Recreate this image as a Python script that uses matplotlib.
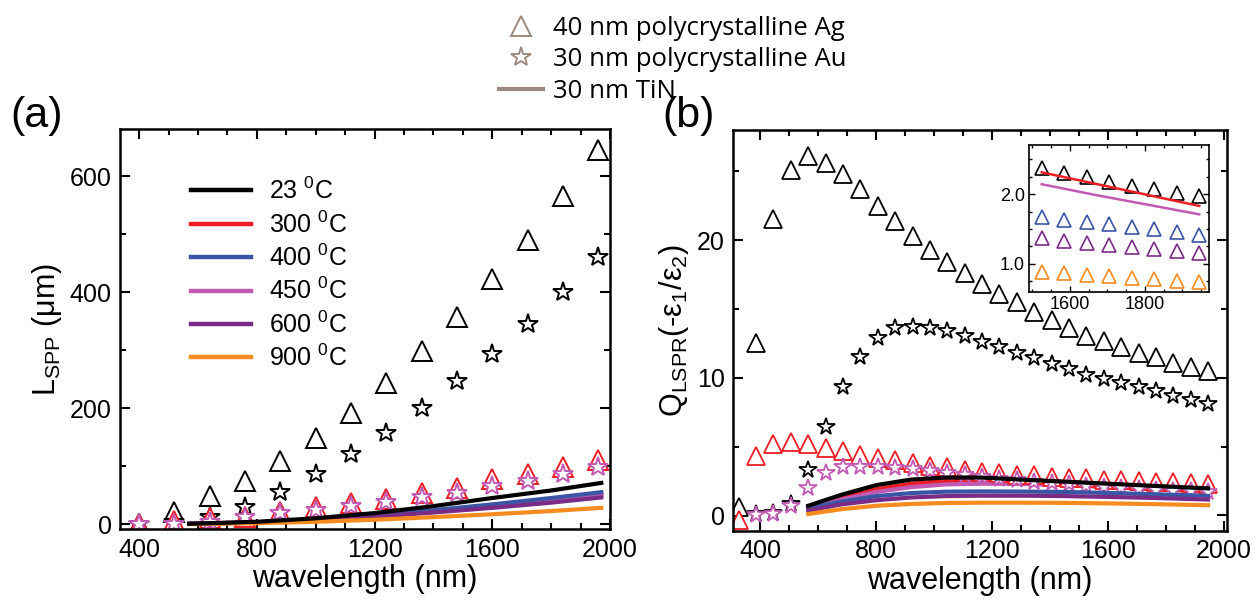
import matplotlib
matplotlib.use("Agg")
import matplotlib.pyplot as plt
from matplotlib.lines import Line2D
from matplotlib.ticker import MultipleLocator, FormatStrFormatter

plt.rcParams['font.family'] = ['Liberation Sans', 'DejaVu Sans']
plt.rcParams['mathtext.default'] = 'regular'

# ---------- colours per anneal temperature ----------
temps = ['23', '300', '400', '450', '600', '900']
colors = ['#000000', '#ec1d25', '#3b55a5', '#c25ab3', '#7a2b86', '#f68b1f']

# ---------- (a) propagation length L_SPP (um) ----------
wl_a = [400, 520, 640, 760, 880, 1000, 1120, 1240, 1360, 1480, 1600, 1720, 1840, 1960]
ag_23_a = [0, 20, 48, 75, 109, 149, 191, 243, 299, 357, 422, 490, 566, 646]
au_23_a = [0, 3, 12, 29, 55, 87, 121, 157, 200, 246, 294, 345, 400, 460]
ag_300_a = [0, 5, 10, 12, 20, 29, 36, 44, 53, 63, 77, 87, 99, 110]
au_450_a = [0, 0, 4, 12, 19, 24, 31, 38, 46, 53, 65, 75, 87, 99]

wl_tin_a = [570, 800, 1000, 1200, 1400, 1600, 1800, 1970]
tin_a = {
    '23':  [0.5, 4, 10, 19, 31, 45, 58, 71],
    '300': [0.5, 3, 7.5, 14.5, 23, 33, 43, 53],
    '400': [0.5, 3, 8, 15, 24, 34, 45, 55],
    '450': [0.5, 3, 7.5, 14, 22, 31, 41, 50],
    '600': [0.5, 2.5, 6.5, 12.5, 20, 28, 37, 46],
    '900': [0, 1.5, 4, 7.5, 12, 17, 22.5, 28],
}

# ---------- (b) quality factor Q_LSPR ----------
wl_ag_b = [325, 385, 445, 505, 565, 625, 685, 745, 805, 865, 925, 985, 1045, 1105,
           1165, 1225, 1285, 1345, 1405, 1465, 1525, 1585, 1645, 1705, 1765, 1825, 1885, 1945]
ag_23_b = [0.6, 12.5, 21.5, 25.1, 26.1, 25.6, 24.8, 23.7, 22.5, 21.4, 20.3, 19.3, 18.4, 17.6,
           16.8, 16.1, 15.5, 14.8, 14.2, 13.6, 13.0, 12.7, 12.2, 11.8, 11.5, 11.1, 10.8, 10.5]
ag_300_b = [-0.3, 4.3, 5.2, 5.3, 5.2, 4.9, 4.7, 4.4, 4.2, 4.0, 3.8, 3.6, 3.5, 3.3,
            3.15, 3.05, 2.95, 2.9, 2.8, 2.75, 2.7, 2.6, 2.55, 2.5, 2.45, 2.4, 2.35, 2.3]

wl_au_b = [385, 445, 505, 565, 625, 685, 745, 805, 865, 925, 985, 1045, 1105,
           1165, 1225, 1285, 1345, 1405, 1465, 1525, 1585, 1645, 1705, 1765, 1825, 1885, 1945]
au_23_b = [0.1, 0.2, 0.8, 3.3, 6.4, 9.3, 11.5, 12.9, 13.6, 13.7, 13.6, 13.4, 13.0,
           12.6, 12.2, 11.8, 11.4, 11.0, 10.6, 10.2, 9.9, 9.6, 9.3, 9.0, 8.7, 8.4, 8.1]
au_450_b = [0.0, 0.1, 0.65, 2.0, 3.1, 3.55, 3.55, 3.5, 3.45, 3.35, 3.25, 3.1, 2.95,
            2.8, 2.65, 2.55, 2.45, 2.35, 2.25, 2.15, 2.05, 1.98, 1.9, 1.85, 1.8, 1.75, 1.7]

wl_tin_b = [565, 680, 800, 920, 1040, 1160, 1300, 1450, 1600, 1750, 1945]
tin_b = {
    '23':  [0.7, 1.5, 2.2, 2.6, 2.75, 2.75, 2.6, 2.45, 2.3, 2.15, 1.96],
    '300': [0.6, 1.3, 1.9, 2.3, 2.5, 2.55, 2.5, 2.4, 2.22, 2.05, 1.83],
    '400': [0.5, 1.0, 1.4, 1.62, 1.72, 1.74, 1.73, 1.70, 1.63, 1.54, 1.42],
    '450': [0.55, 1.15, 1.7, 2.05, 2.25, 2.3, 2.28, 2.2, 2.05, 1.9, 1.71],
    '600': [0.35, 0.8, 1.1, 1.3, 1.4, 1.43, 1.43, 1.4, 1.34, 1.27, 1.15],
    '900': [0.1, 0.45, 0.7, 0.83, 0.9, 0.92, 0.92, 0.91, 0.87, 0.82, 0.74],
}

# inset: TiN long-wavelength detail
wl_inset = [1525, 1585, 1645, 1705, 1765, 1825, 1885, 1945]
inset_tri = {
    '23':  [2.37, 2.30, 2.24, 2.17, 2.12, 2.07, 2.02, 1.97],
    '400': [1.67, 1.63, 1.60, 1.57, 1.53, 1.50, 1.46, 1.42],
    '600': [1.37, 1.33, 1.30, 1.27, 1.24, 1.21, 1.19, 1.15],
    '900': [0.89, 0.87, 0.84, 0.83, 0.80, 0.78, 0.76, 0.74],
}
wl_inset_line = [1525, 1665, 1805, 1945]
inset_line = {
    '300': [2.31, 2.15, 1.99, 1.83],
    '450': [2.14, 1.99, 1.85, 1.71],
}

col = dict(zip(temps, colors))


def style_axes(ax, size=18):
    ax.tick_params(which='both', direction='in', top=True, right=True, width=1.5)
    ax.tick_params(which='major', length=7, labelsize=size, pad=6)
    ax.tick_params(which='minor', length=4)
    for s in ax.spines.values():
        s.set_linewidth(1.8)


fig = plt.figure(figsize=(12.6, 6.07), dpi=100)
ax1 = fig.add_axes([0.0952, 0.128, 0.389, 0.659])
ax2 = fig.add_axes([0.5817, 0.126, 0.392, 0.660])

# ----- panel (a) -----
ax1.plot(wl_a, ag_23_a, ls='none', marker='^', ms=14, mfc='w', mec='k', mew=1.4)
ax1.plot(wl_a, au_23_a, ls='none', marker='*', ms=15, mfc='w', mec='k', mew=1.4)
ax1.plot(wl_a, ag_300_a, ls='none', marker='^', ms=14, mfc='w', mec=col['300'], mew=1.4)
ax1.plot(wl_a, au_450_a, ls='none', marker='*', ms=15, mfc='w', mec=col['450'], mew=1.4)
for t in ['300', '450', '400', '600', '900', '23']:
    ax1.plot(wl_tin_a, tin_a[t], color=col[t], lw=3)

handles = [Line2D([], [], color=col[t], lw=3.2) for t in temps]
labels = [t + r' $^{0}$C' for t in temps]
ax1.legend(handles, labels, loc='upper left', bbox_to_anchor=(0.1, 0.935), frameon=False,
           fontsize=18, handlelength=2.4, handletextpad=0.7, labelspacing=0.28)

ax1.set_xlim(335, 2000)
ax1.set_ylim(-9, 681)
ax1.xaxis.set_major_locator(MultipleLocator(400))
ax1.xaxis.set_minor_locator(MultipleLocator(100))
ax1.yaxis.set_major_locator(MultipleLocator(200))
ax1.yaxis.set_minor_locator(MultipleLocator(100))
style_axes(ax1)
ax1.set_xlabel('wavelength (nm)', fontsize=22, labelpad=2)
ax1.set_ylabel(r'L$_{SPP}$ ($\mu$m)', fontsize=22, labelpad=4)
fig.text(0.008, 0.79, '(a)', fontsize=31)

# ----- panel (b) -----
ax2.plot(wl_ag_b, ag_23_b, ls='none', marker='^', ms=13.5, mfc='w', mec='k', mew=1.3, zorder=2)
ax2.plot(wl_au_b, au_23_b, ls='none', marker='*', ms=13, mfc='w', mec='k', mew=1.3, zorder=2)
ax2.plot(wl_ag_b, ag_300_b, ls='none', marker='^', ms=13.5, mfc='w', mec=col['300'], mew=1.3, zorder=2)
ax2.plot(wl_au_b, au_450_b, ls='none', marker='*', ms=13, mfc='w', mec=col['450'], mew=1.3, zorder=2)
for t in ['300', '450']:
    ax2.plot(wl_tin_b, tin_b[t], color=col[t], lw=3, zorder=1)
for t in ['400', '600', '900', '23']:
    ax2.plot(wl_tin_b, tin_b[t], color=col[t], lw=3, zorder=3)

ax2.set_xlim(305, 2010)
ax2.set_ylim(-1.1, 28.0)
ax2.xaxis.set_major_locator(MultipleLocator(400))
ax2.xaxis.set_minor_locator(MultipleLocator(100))
ax2.yaxis.set_major_locator(MultipleLocator(10))
ax2.yaxis.set_minor_locator(MultipleLocator(5))
style_axes(ax2)
ax2.set_xlabel('wavelength (nm)', fontsize=22, labelpad=2)
ax2.set_ylabel(r'Q$_{LSPR}$(-ε$_{1}$/ε$_{2}$)', fontsize=22, labelpad=4)
fig.text(0.526, 0.79, '(b)', fontsize=31)

# inset
axi = fig.add_axes([0.8167, 0.519, 0.1428, 0.242])
for t in ['23', '400', '600', '900']:
    axi.plot(wl_inset, inset_tri[t], ls='none', marker='^', ms=9.5, mfc='none', mec=col[t], mew=1.2)
for t in ['300', '450']:
    axi.plot(wl_inset_line, inset_line[t], color=col[t], lw=1.8)
axi.set_xlim(1491, 1971)
axi.set_ylim(0.6, 2.7)
axi.xaxis.set_major_locator(MultipleLocator(200))
axi.xaxis.set_minor_locator(MultipleLocator(50))
axi.yaxis.set_major_locator(MultipleLocator(1.0))
axi.yaxis.set_minor_locator(MultipleLocator(0.25))
axi.yaxis.set_major_formatter(FormatStrFormatter('%.1f'))
axi.tick_params(which='both', direction='in', top=True, right=True, width=1.0)
axi.tick_params(which='major', length=4, labelsize=13, pad=3)
axi.tick_params(which='minor', length=2.5)
for s in axi.spines.values():
    s.set_linewidth(1.2)

# material key across the top
taupe = '#9d8a7e'
key_handles = [
    Line2D([], [], ls='none', marker='^', ms=14, mfc='none', mec=taupe, mew=1.4),
    Line2D([], [], ls='none', marker='*', ms=15, mfc='none', mec=taupe, mew=1.4),
    Line2D([], [], color=taupe, lw=3),
]
key_labels = ['40 nm polycrystalline Ag', '30 nm polycrystalline Au', '30 nm TiN']
fig.legend(key_handles, key_labels, loc='upper left', bbox_to_anchor=(0.378, 1.012),
           frameon=False, prop={'family': ['Open Sans', 'DejaVu Sans'], 'size': 18.5},
           handlelength=1.7, handletextpad=0.4, labelspacing=0.25)

fig.savefig('out.png', dpi=100)
